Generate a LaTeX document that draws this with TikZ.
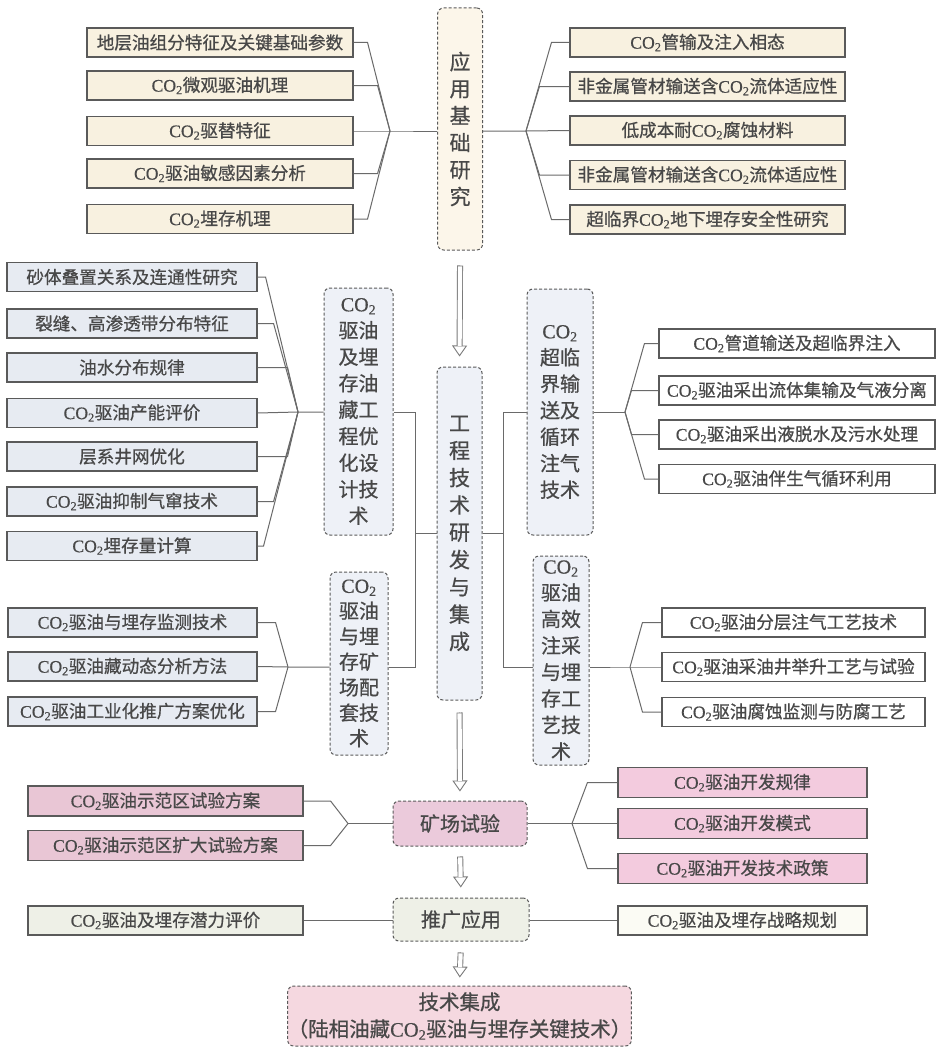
\documentclass[tikz,border=0pt]{standalone}
\usepackage{fontspec}
\setmainfont{Noto Sans CJK SC}[FakeBold=0.7]
\newfontfamily\latf{Liberation Serif}[FakeBold=0.5]
\usetikzlibrary{arrows.meta}
\definecolor{txt}{HTML}{484848}
\definecolor{bord}{HTML}{5A5A5A}
\definecolor{lc}{HTML}{6A6A6A}
\definecolor{ac}{HTML}{7A7A7A}
\definecolor{cream}{HTML}{F8F1E0}
\definecolor{creamc}{HTML}{FCF6EA}
\definecolor{bluel}{HTML}{E7EBF2}
\definecolor{bluec}{HTML}{EEF1F7}
\definecolor{pinkl}{HTML}{E9C6D5}
\definecolor{pinkr}{HTML}{F3CBDE}
\definecolor{pinkm}{HTML}{EBCADB}
\definecolor{pinkf}{HTML}{F5D8E0}
\definecolor{greyg}{HTML}{EEF0E7}
\definecolor{greyw}{HTML}{FBFBF4}
\newcommand\COtwo{{\latf CO\textsubscript{2}}}
\tikzset{
  sq/.style={draw=bord, line width=1.1pt, minimum height=29pt, inner sep=0pt, text=txt, font=\fontsize{17.6}{20}\selectfont},
  rbox/.style={draw=bord, line width=1pt, rounded corners=6pt, densely dashed, inner sep=0pt, align=center, text=txt, font=\fontsize{20}{26.5}\selectfont},
  conn/.style={draw=lc, line width=1pt},
  arrtip/.style={draw=ac, line width=0.9pt, -{Triangle[length=11pt,width=15pt,fill=white]}},
  arrout/.style={draw=ac, line width=6pt},
  arrin/.style={draw=white, line width=4.2pt},
}
\begin{document}
\begin{tikzpicture}[x=1pt,y=-1pt]
\useasboundingbox[fill=white] (0,0) rectangle (936,1049);

% ---------- top: application basic research
\node[rbox, fill=creamc, minimum width=45pt, minimum height=242pt, font=\fontsize{21}{27}\selectfont] (A) at (460.1,129) {应\\用\\基\\础\\研\\究};
\foreach \n/\y/\t in {1/42.5/{地层油组分特征及关键基础参数},2/85.5/{\COtwo 微观驱油机理},3/131/{\COtwo 驱替特征},4/173.5/{\COtwo 驱油敏感因素分析},5/219/{\COtwo 埋存机理}}
  \node[sq, fill=cream, minimum width=266pt] (TL\n) at (220,\y) {\t};
\foreach \n/\y/\t in {1/42.5/{\COtwo 管输及注入相态},2/86.5/{非金属管材输送含\COtwo 流体适应性},3/130.5/{低成本耐\COtwo 腐蚀材料},4/175/{非金属管材输送含\COtwo 流体适应性},5/219.5/{超临界\COtwo 地下埋存安全性研究}}
  \node[sq, fill=cream, minimum width=275pt] (TR\n) at (707.5,\y) {\t};
\coordinate (cTL) at (390,131);
\coordinate (cTR) at (526,131);
\foreach \n/\d in {1/14,2/24,4/24,5/14} \draw[conn] (TL\n.east) -- ++(\d,0) -- (cTL);
\draw[conn] (TL3.east) -- (cTL) -- (cTL -| A.west);
\foreach \n/\d in {1/-18,2/-30,4/-30,5/-18} \draw[conn] (TR\n.west) -- ++(\d,0) -- (cTR);
\draw[conn] (TR3.west) -- (cTR) -- (cTR -| A.east);

% ---------- engineering technology
\node[rbox, fill=bluec, minimum width=45pt, minimum height=333pt, font=\fontsize{21}{27.3}\selectfont] (E) at (459.5,533.5) {工\\程\\技\\术\\研\\发\\与\\集\\成};
\draw[arrtip, shorten <=15pt, shorten >=10pt] (A.south) -- (E.north);
\draw[arrout, shorten <=15pt, shorten >=20.5pt] (A.south) -- (E.north);
\draw[arrin, shorten <=15.9pt, shorten >=20.5pt] (A.south) -- (E.north);

\node[rbox, fill=bluec, minimum width=69pt, minimum height=247pt] (D1) at (358.5,411.5) {\COtwo\\驱油\\及埋\\存油\\藏工\\程优\\化设\\计技\\术};
\node[rbox, fill=bluec, minimum width=58pt, minimum height=183pt, font=\fontsize{20}{25.5}\selectfont] (D2) at (359,663.5) {\COtwo\\驱油\\与埋\\存矿\\场配\\套技\\术};
\node[rbox, fill=bluec, minimum width=66pt, minimum height=246pt] (R1) at (560,412) {\COtwo\\超临\\界输\\送及\\循环\\注气\\技术};
\node[rbox, fill=bluec, minimum width=56pt, minimum height=209pt] (R2) at (561,660.5) {\COtwo\\驱油\\高效\\注采\\与埋\\存工\\艺技\\术};

\foreach \n/\y/\t in {1/277/{砂体叠置关系及连通性研究},2/323.5/{裂缝、高渗透带分布特征},3/367.5/{油水分布规律},4/413/{\COtwo 驱油产能评价},5/456.5/{层系井网优化},6/501.5/{\COtwo 驱油抑制气窜技术},7/546/{\COtwo 埋存量计算}}
  \node[sq, fill=bluel, minimum width=250pt] (LB\n) at (132,\y) {\t};
\foreach \n/\y/\t in {1/622.5/{\COtwo 驱油与埋存监测技术},2/666.5/{\COtwo 驱油藏动态分析方法},3/711.5/{\COtwo 驱油工业化推广方案优化}}
  \node[sq, fill=bluel, minimum width=249pt] (LC\n) at (132.5,\y) {\t};
\foreach \n/\y/\t in {1/343.5/{\COtwo 管道输送及超临界注入},2/390.5/{\COtwo 驱油采出流体集输及气液分离},3/434.5/{\COtwo 驱油采出液脱水及污水处理},4/479/{\COtwo 驱油伴生气循环利用}}
  \node[sq, fill=white, minimum width=276pt] (RB\n) at (797,\y) {\t};
\foreach \n/\y/\t in {1/622.5/{\COtwo 驱油分层注气工艺技术},2/667/{\COtwo 驱油采油井举升工艺与试验},3/712/{\COtwo 驱油腐蚀监测与防腐工艺}}
  \node[sq, fill=white, minimum width=263pt] (RC\n) at (793.5,\y) {\t};

\coordinate (cLB) at (298,412);
\coordinate (cLC) at (288,667);
\coordinate (cRB) at (625,412);
\coordinate (cRC) at (630,667);
\foreach \n/\d in {1/8,2/16,3/30,5/30,6/16,7/6} \draw[conn] (LB\n.east) -- ++(\d,0) -- (cLB);
\draw[conn] (LB4.east) -- (cLB) -- (cLB -| D1.west);
\foreach \n/\d in {1/18,3/18} \draw[conn] (LC\n.east) -- ++(\d,0) -- (cLC);
\draw[conn] (LC2.east) -- (cLC) -- (cLC -| D2.west);
\foreach \n/\d in {1/-14,2/-27,3/-27,4/-14} \draw[conn] (RB\n.west) -- ++(\d,0) -- (cRB);
\draw[conn] (R1.east |- cRB) -- (cRB);
\foreach \n/\d in {1/-19,3/-19} \draw[conn] (RC\n.west) -- ++(\d,0) -- (cRC);
\draw[conn] (RC2.west) -- (cRC) -- (cRC -| R2.east);

% buses
\coordinate (bL1) at (415,412);
\coordinate (bL2) at (415,667);
\coordinate (bR1) at (503,412);
\coordinate (bR2) at (503,667);
\draw[conn] (D1.east |- bL1) -- (bL1) -- (bL2) -- (D2.east |- bL2);
\draw[conn] (bL1 |- E.west) -- (E.west);
\draw[conn] (R1.west |- bR1) -- (bR1) -- (bR2) -- (R2.west |- bR2);
\draw[conn] (E.east) -- (bR1 |- E.east);

% ---------- field test
\node[rbox, fill=pinkm, minimum width=134pt, minimum height=45pt] (M) at (460,823.5) {矿场试验};
\draw[arrtip, shorten <=12pt, shorten >=9pt] (E.south) -- (M.north);
\draw[arrout, shorten <=12pt, shorten >=19.5pt] (E.south) -- (M.north);
\draw[arrin, shorten <=12.9pt, shorten >=19.5pt] (E.south) -- (M.north);
\node[sq, fill=pinkl, minimum width=275pt, minimum height=30pt] (PL1) at (165.5,801) {\COtwo 驱油示范区试验方案};
\node[sq, fill=pinkl, minimum width=275pt, minimum height=30pt] (PL2) at (165.5,845.5) {\COtwo 驱油示范区扩大试验方案};
\coordinate (cPL) at (348,823.5);
\draw[conn] (PL1.east) -- ++(27,0) -- (cPL);
\draw[conn] (PL2.east) -- ++(27,0) -- (cPL);
\draw[conn] (cPL) -- (M.west);
\foreach \n/\y/\t in {1/782.5/{\COtwo 驱油开发规律},2/823.5/{\COtwo 驱油开发模式},3/868.5/{\COtwo 驱油开发技术政策}}
  \node[sq, fill=pinkr, minimum width=249pt, minimum height=30pt] (PR\n) at (742.5,\y) {\t};
\coordinate (cPR) at (572,823.5);
\draw[conn] (PR1.west) -- ++(-30,0) -- (cPR);
\draw[conn] (PR3.west) -- ++(-30,0) -- (cPR);
\draw[conn] (PR2.west) -- (M.east);

% ---------- promotion
\node[rbox, fill=greyg, minimum width=136pt, minimum height=43pt] (T) at (461,919.5) {推广应用};
\draw[arrtip, shorten <=10pt, shorten >=10pt] (M.south) -- (T.north);
\draw[arrout, shorten <=10pt, shorten >=20.5pt] (M.south) -- (T.north);
\draw[arrin, shorten <=10.9pt, shorten >=20.5pt] (M.south) -- (T.north);
\node[sq, fill=greyg, minimum width=275pt] (PL3) at (165.5,920.5) {\COtwo 驱油及埋存潜力评价};
\node[sq, fill=greyw, minimum width=249pt] (PR4) at (742.5,920.5) {\COtwo 驱油及埋存战略规划};
\draw[conn] (PL3.east) -- (PL3.east -| T.west);
\draw[conn] (T.east |- PR4.west) -- (PR4.west);

% ---------- integration
\node[rbox, fill=pinkf, minimum width=337pt, minimum height=60pt, font=\fontsize{20.5}{27}\selectfont] (F) at (459.5,1016) {技术集成\\（陆相油藏\COtwo 驱油与埋存关键技术）};
\draw[arrtip, shorten <=11pt, shorten >=8pt] (T.south) -- (F.north);
\draw[arrout, shorten <=11pt, shorten >=18.5pt] (T.south) -- (F.north);
\draw[arrin, shorten <=11.9pt, shorten >=18.5pt] (T.south) -- (F.north);
\end{tikzpicture}
\end{document}
